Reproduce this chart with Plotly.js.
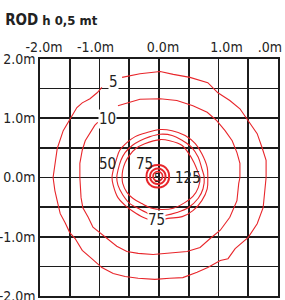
<!DOCTYPE html>
<html><head><meta charset="utf-8">
<script src="https://cdn.plot.ly/plotly-3.0.1.min.js"></script>
<style>html,body{margin:0;padding:0;background:#fff;}#chart{width:285px;height:300px;}</style>
</head><body><div id="chart"></div>
<script>
// Axis ticks
const tickVals = [-2, -1, 0, 1, 2];
const xTickText = ['&nbsp;&nbsp;-2.0m', '-1.0m&nbsp;&nbsp;', '&nbsp;&nbsp;0.0m', '&nbsp;&nbsp;&nbsp;&nbsp;1.0m', '.0m&nbsp;&nbsp;&nbsp;&nbsp;'];
const yTickText = ['-2.0m', '-1.0m', '0.0m', '1.0m', '2.0m'];

// Isolux "5" (outer)
const c5x = [-0.62,-0.32,0.02,0.24,0.52,0.82,0.99,1.19,1.36,1.50,1.65,1.73,1.80,1.80,1.78,1.75,1.65,1.50,1.28,1.16,1.03,0.82,0.64,0.40,0.18,-0.07,-0.35,-0.57,-0.77,-0.96,-1.13,-1.29,-1.41,-1.50,-1.58,-1.66,-1.70,-1.75,-1.78,-1.75,-1.71,-1.61,-1.58,-1.50,-1.38,-1.29,-1.16,-1.04,-0.96];
const c5y = [1.69,1.75,1.79,1.74,1.69,1.60,1.43,1.30,1.16,0.96,0.74,0.51,0.29,0.00,-0.17,-0.51,-0.78,-1.01,-1.20,-1.37,-1.40,-1.52,-1.60,-1.69,-1.70,-1.72,-1.70,-1.67,-1.62,-1.52,-1.37,-1.23,-1.03,-0.93,-0.76,-0.61,-0.44,-0.22,0.00,0.24,0.49,0.79,0.84,0.99,1.18,1.26,1.33,1.43,1.52];

// Isolux "10"
const c10x = [-0.69,-0.32,0.02,0.30,0.57,0.81,0.97,1.11,1.23,1.31,1.36,1.36,1.34,1.31,1.19,1.03,0.86,0.69,0.47,0.18,-0.10,-0.35,-0.54,-0.71,-0.87,-0.99,-1.11,-1.19,-1.28,-1.31,-1.33,-1.33,-1.33,-1.29,-1.24,-1.16,-1.08,-1.03];
const c10y = [1.21,1.32,1.33,1.30,1.21,1.10,0.96,0.79,0.62,0.42,0.24,0.00,-0.10,-0.39,-0.67,-0.89,-1.03,-1.18,-1.25,-1.28,-1.30,-1.28,-1.25,-1.16,-1.03,-0.94,-0.84,-0.67,-0.51,-0.34,-0.10,0.00,0.24,0.46,0.62,0.76,0.88,0.93];

// Inner cluster (50 / 75 lines)
const c50x = [0.02,0.22,0.44,0.61,0.72,0.81,0.82,0.81,0.72,0.57,0.39,0.15,-0.07,-0.27,-0.44,-0.57,-0.69,-0.77,-0.79,-0.77,-0.72,-0.66,-0.54,-0.40,-0.20,0.02];
const c50y = [0.81,0.79,0.71,0.57,0.40,0.17,0.00,-0.19,-0.39,-0.56,-0.66,-0.69,-0.73,-0.67,-0.57,-0.47,-0.34,-0.13,0.00,0.12,0.29,0.46,0.59,0.69,0.76,0.81];
const c60x = [0.02,0.22,0.40,0.55,0.66,0.72,0.76,0.74,0.66,0.49,0.30,0.10,-0.07,-0.18,-0.35,-0.49,-0.61,-0.69,-0.71,-0.69,-0.64,-0.57,-0.45,-0.32,-0.15,0.02];
const c60y = [0.73,0.71,0.62,0.51,0.34,0.15,0.00,-0.19,-0.35,-0.51,-0.59,-0.64,-0.66,-0.61,-0.52,-0.44,-0.29,-0.13,0.00,0.12,0.29,0.42,0.54,0.62,0.69,0.73];
const c75x = [0.02,0.18,0.39,0.49,0.59,0.66,0.69,0.66,0.57,0.44,0.24,0.05,-0.12,-0.29,-0.44,-0.54,-0.61,-0.62,-0.61,-0.57,-0.50,-0.39,-0.24,0.02];
const c75y = [0.64,0.62,0.54,0.42,0.25,0.08,0.00,-0.17,-0.32,-0.42,-0.52,-0.54,-0.52,-0.44,-0.35,-0.25,-0.10,0.00,0.12,0.25,0.37,0.49,0.57,0.64];

// Centre rings (125 and above)
const r1x = [0.17,0.15,0.075,-0.02,-0.115,-0.19,-0.21,-0.19,-0.115,-0.02,0.075,0.15,0.17];
const r1y = [0.02,0.115,0.19,0.21,0.19,0.115,0.02,-0.075,-0.15,-0.17,-0.15,-0.075,0.02];
const r2x = [0.11,0.094,0.045,-0.02,-0.085,-0.134,-0.15,-0.134,-0.085,-0.02,0.045,0.094,0.11];
const r2y = [0.02,0.085,0.134,0.15,0.134,0.085,0.02,-0.045,-0.094,-0.11,-0.094,-0.045,0.02];
const r3x = [0.06,0.05,0.02,-0.02,-0.06,-0.09,-0.10,-0.09,-0.06,-0.02,0.02,0.05,0.06];
const r3y = [0.02,0.06,0.09,0.10,0.09,0.06,0.02,-0.02,-0.05,-0.06,-0.05,-0.02,0.02];

// Contour labels
const labelText = ['5', '10', '50', '75', '75', '125', '5'];
const labelX = [-0.76, -0.86, -0.86, -0.24, -0.05, 0.49, -0.02];
const labelY = [1.62, 0.99, 0.22, 0.22, -0.71, 0.00, 0.00];

const RED = '#e8262b';
const FONT = 'Liberation Sans Narrow, DejaVu Sans Condensed, Arial Narrow, sans-serif';

function line(x, y, w, shape) {
  return {x: x, y: y, type: 'scatter', mode: 'lines', hoverinfo: 'skip',
          line: {color: RED, width: w, shape: shape || 'linear', smoothing: 1}};
}
const traces = [
  line(c5x, c5y, 1.1), line(c10x, c10y, 1.1),
  line(c50x, c50y, 1.1, 'spline'), line(c60x, c60y, 1.1, 'spline'), line(c75x, c75y, 1.1, 'spline'),
  line(r1x, r1y, 2, 'spline'), line(r2x, r2y, 2, 'spline'), line(r3x, r3y, 1.6, 'spline')
];

const bgFor = ['#fff', '#fff', 'rgba(0,0,0,0)', 'rgba(0,0,0,0)', '#fff', 'rgba(0,0,0,0)', 'rgba(0,0,0,0)'];
const annotations = labelText.map((t, i) => ({
  x: labelX[i], y: labelY[i], xref: 'x', yref: 'y', text: t, showarrow: false,
  font: {family: FONT, size: i === 6 ? 12 : 15, color: '#222'},
  bgcolor: bgFor[i], borderpad: 0
}));

const axisCommon = {
  range: [-2, 2], tickvals: tickVals, showgrid: true, gridcolor: '#1c1c1c', gridwidth: 1.6,
  zeroline: false, showline: true, linecolor: '#1c1c1c', linewidth: 1.6, mirror: true,
  ticks: '', tickfont: {family: FONT, size: 14, color: '#222'}, fixedrange: true,
  ticklabeloverflow: 'allow',
  minor: {dtick: 0.5, showgrid: true, gridcolor: '#1c1c1c', gridwidth: 1.6}
};

const layout = {
  width: 285, height: 300,
  margin: {l: 40, r: 7, t: 59, b: 4},
  paper_bgcolor: '#fff', plot_bgcolor: '#fff',
  showlegend: false,
  title: {text: '<b>ROD</b><span style="font-size:13px"><b> h 0,5 mt</b></span>',
          font: {family: FONT, size: 15, color: '#222'},
          x: 0.018, xanchor: 'left', xref: 'container', y: 0.933, yanchor: 'middle', yref: 'container'},
  xaxis: Object.assign({}, axisCommon, {side: 'top', ticktext: xTickText}),
  yaxis: Object.assign({}, axisCommon, {ticktext: yTickText}),
  annotations: annotations
};

Plotly.newPlot('chart', traces, layout, {staticPlot: true, displayModeBar: false});
</script>
</body></html>
